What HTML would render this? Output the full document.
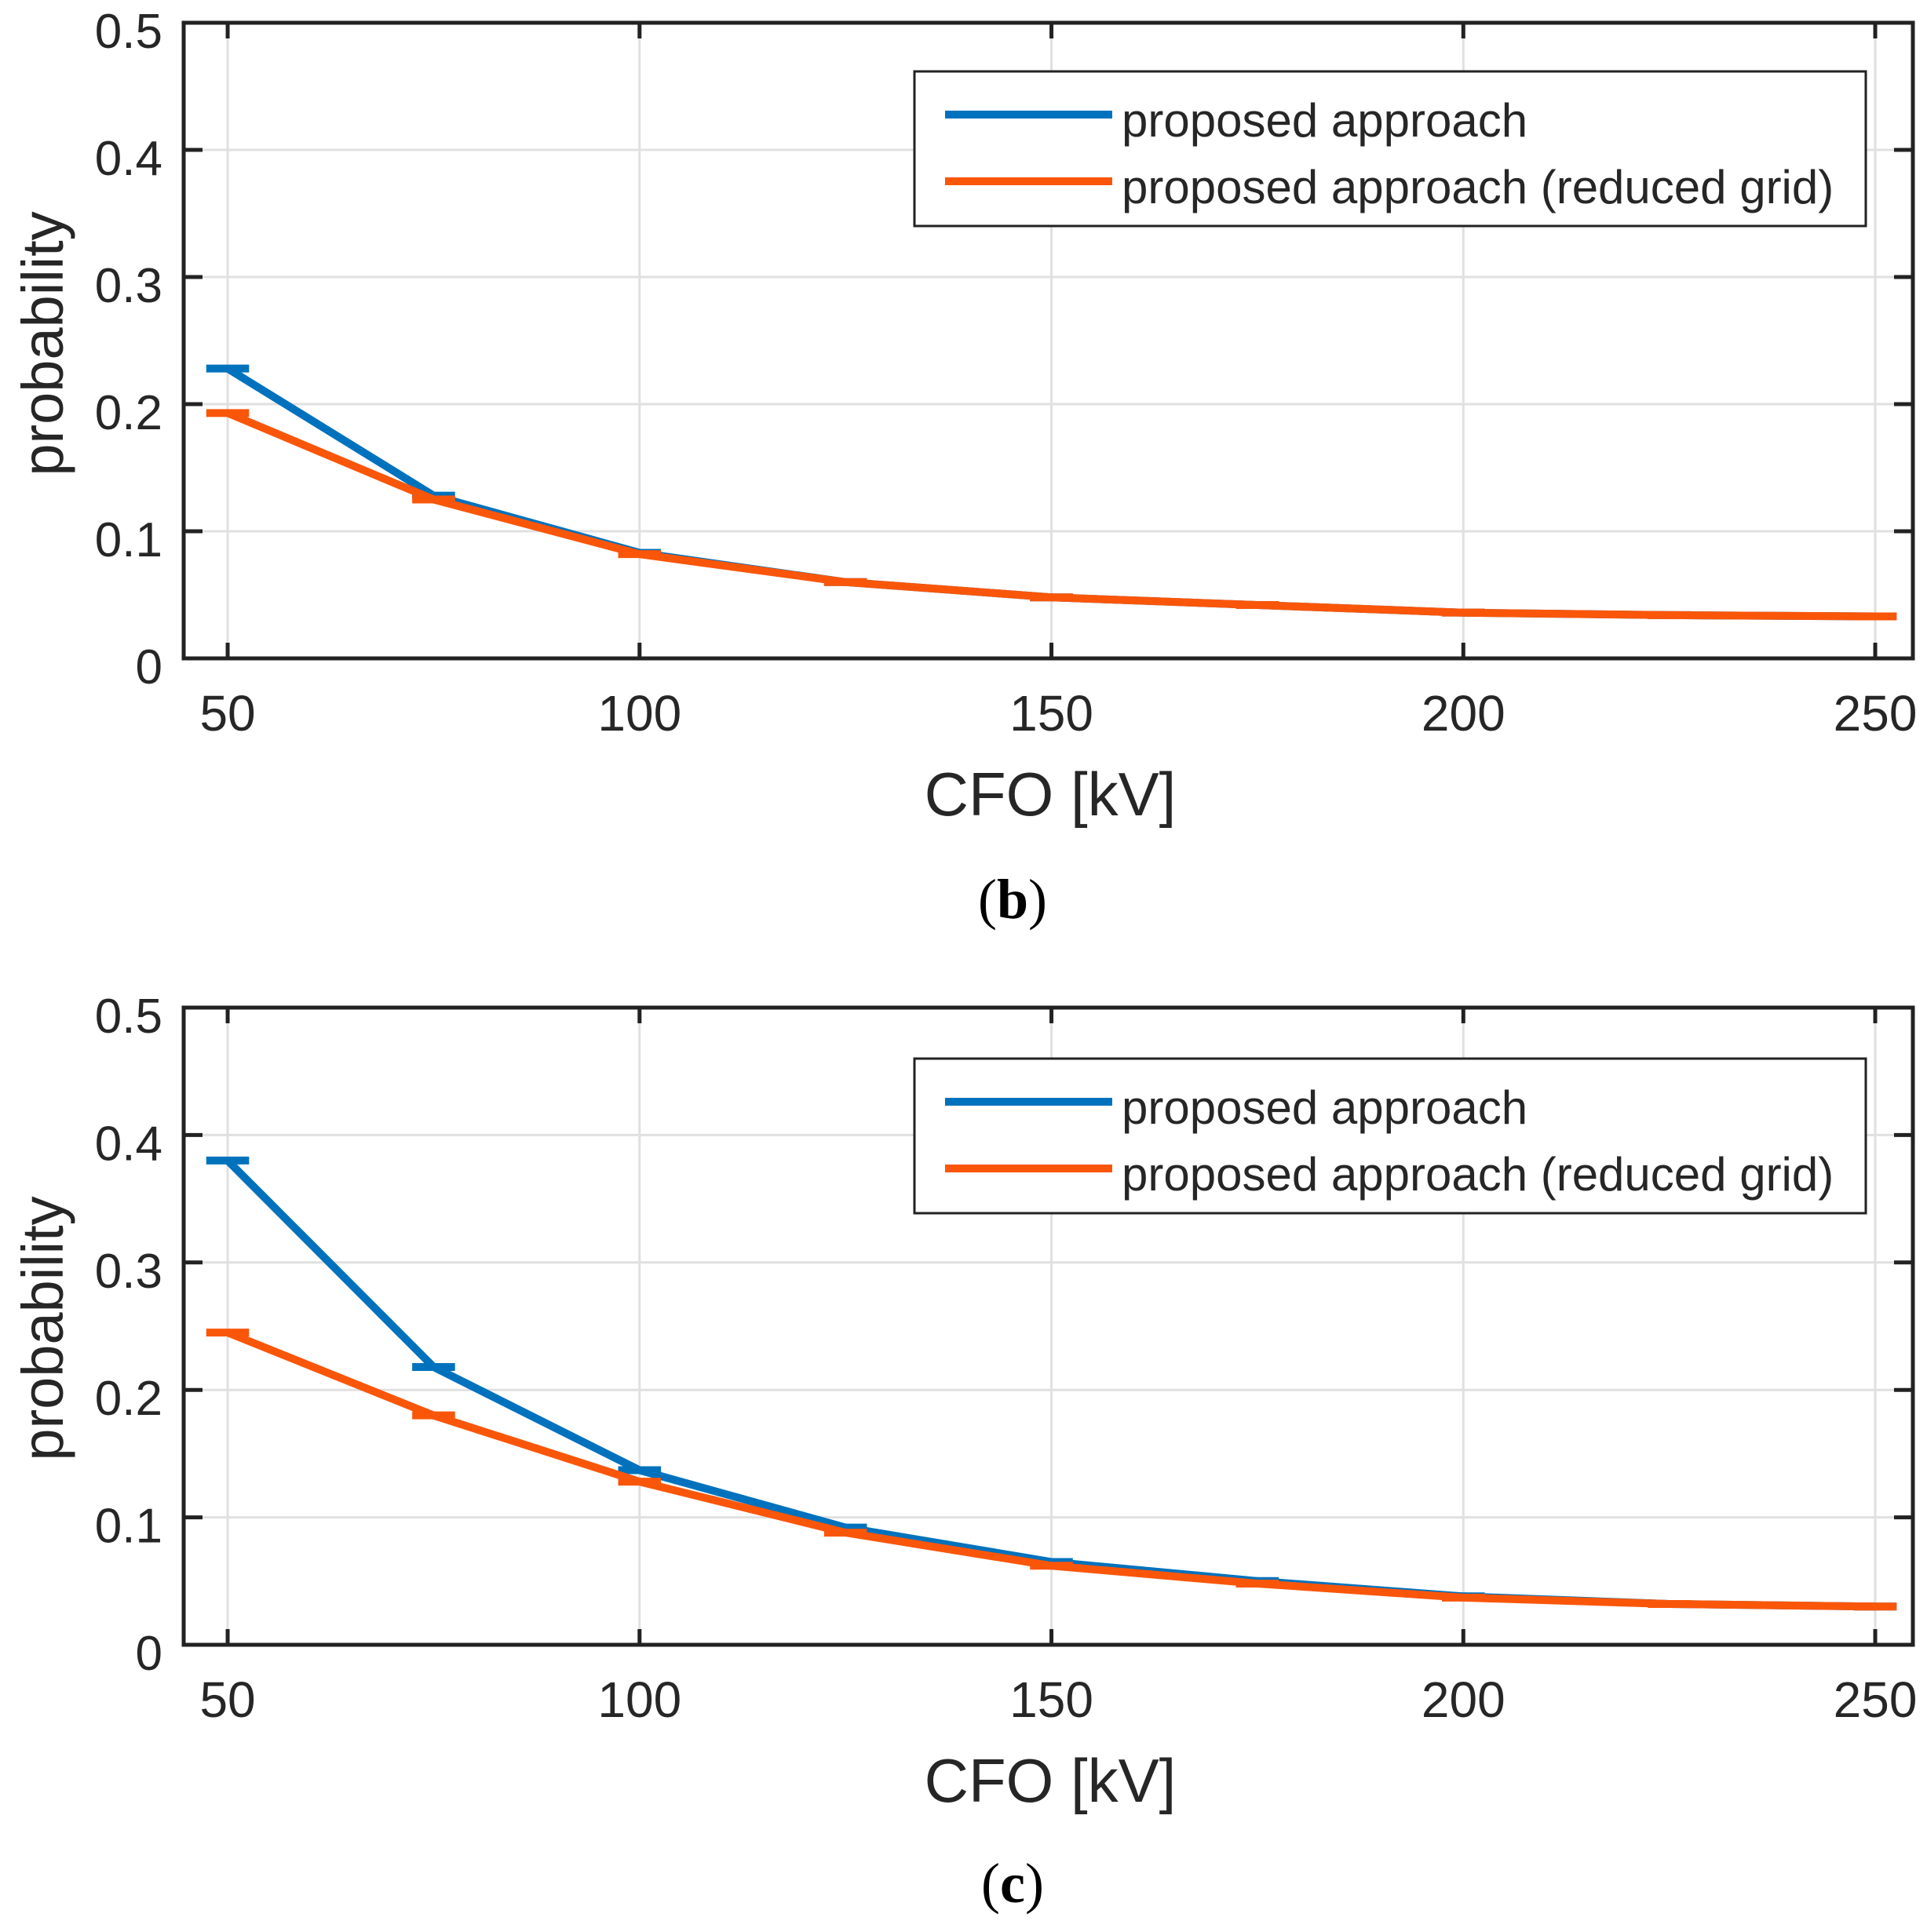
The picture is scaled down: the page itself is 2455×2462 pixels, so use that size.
<!DOCTYPE html>
<html><head><meta charset="utf-8"><style>
html,body{margin:0;padding:0;background:#fff;}
svg{display:block;font-family:"Liberation Sans",sans-serif;}
</style></head><body>
<svg id="chart" width="2455" height="2462" viewBox="0 0 2455 2462" xmlns="http://www.w3.org/2000/svg"></svg>
<script>
const xValues = [50, 75, 100, 125, 150, 175, 200, 225, 250];
const xTicks = [50, 100, 150, 200, 250];
const yTicks = [0, 0.1, 0.2, 0.3, 0.4, 0.5];
const yTickLabels = ["0", "0.1", "0.2", "0.3", "0.4", "0.5"];
const seriesNames = ["proposed approach", "proposed approach (reduced grid)"];
const bBlue = [0.228, 0.128, 0.083, 0.060, 0.048, 0.042, 0.036, 0.034, 0.033];
const bOrange = [0.193, 0.125, 0.082, 0.060, 0.048, 0.042, 0.036, 0.034, 0.033];
const cBlue = [0.380, 0.218, 0.137, 0.092, 0.065, 0.050, 0.038, 0.032, 0.030];
const cOrange = [0.245, 0.180, 0.128, 0.088, 0.062, 0.048, 0.037, 0.032, 0.030];
const panelLabels = ["(b)", "(c)"];

const NS = "http://www.w3.org/2000/svg";
const svg = document.getElementById("chart");
const COLORS = ["#0072BD", "#FA560A"];
function mk(tag, attrs, parent) {
  const e = document.createElementNS(NS, tag);
  for (const k in attrs) e.setAttribute(k, attrs[k]);
  (parent || svg).appendChild(e);
  return e;
}
const L = 234, R = 2437, XMIN = 44.66, XMAX = 254.57;
function xs(v) { return L + (v - XMIN) / (XMAX - XMIN) * (R - L); }

function panel(top, bottom, series, label, labelY, legTop, idx) {
  const g = mk("g", {});
  
  
  const ys = v => bottom - v / 0.5 * (bottom - top);
  xTicks.forEach(t => {
    const l = mk("line", {x1: xs(t), x2: xs(t), y1: top, y2: bottom, stroke: "#e0e0e0", "stroke-width": 3}, g);
    
    
  });
  yTicks.forEach(t => {
    const l = mk("line", {x1: L, x2: R, y1: ys(t), y2: ys(t), stroke: "#e0e0e0", "stroke-width": 3}, g);
    
    
  });
  series.forEach((vals, si) => {
    const pts = xValues.map((x, i) => xs(x).toFixed(1) + "," + ys(vals[i]).toFixed(1)).join(" ");
    const pl = mk("polyline", {points: pts, fill: "none", stroke: COLORS[si], "stroke-width": 10, "stroke-linejoin": "round"}, g);
    
    
    xValues.forEach((x, i) => {
      const c = mk("line", {x1: xs(x - 2.6), x2: xs(x + 2.6), y1: ys(vals[i]), y2: ys(vals[i]), stroke: COLORS[si], "stroke-width": 10}, g);
      
      
    });
  });
  const box = mk("rect", {x: L, y: top, width: R - L, height: bottom - top, fill: "none", stroke: "#222", "stroke-width": 5}, g);
  
  
  xTicks.forEach(t => {
    mk("line", {x1: xs(t), x2: xs(t), y1: bottom, y2: bottom - 20, stroke: "#222", "stroke-width": 5}, g);
    mk("line", {x1: xs(t), x2: xs(t), y1: top, y2: top + 20, stroke: "#222", "stroke-width": 5}, g);
    const tx = mk("text", {x: xs(t), y: bottom + 92, "font-size": 64, "text-anchor": "middle", fill: "#262626"}, g);
    tx.textContent = t;
    
    
  });
  yTicks.forEach((t, i) => {
    mk("line", {x1: L, x2: L + 24, y1: ys(t), y2: ys(t), stroke: "#222", "stroke-width": 5}, g);
    mk("line", {x1: R, x2: R - 24, y1: ys(t), y2: ys(t), stroke: "#222", "stroke-width": 5}, g);
    const tx = mk("text", {x: 207, y: ys(t) + 32, "font-size": 62, "text-anchor": "end", fill: "#262626"}, g);
    tx.textContent = yTickLabels[i];
    
    
  });
  const xt = mk("text", {x: 1338, y: bottom + 200, "font-size": 78, "text-anchor": "middle", fill: "#262626"}, g);
  xt.textContent = "CFO [kV]";
  
  
  const yc = top + 409;
  const yt = mk("text", {x: 80, y: yc, "font-size": 74, "text-anchor": "middle", fill: "#262626", transform: "rotate(-90 80 " + yc + ")"}, g);
  yt.textContent = "probability";
  
  
  const lg = mk("g", {}, g);
  
  
  mk("rect", {x: 1165, y: legTop, width: 1212, height: 197, fill: "#fff", stroke: "#222", "stroke-width": 3}, lg);
  seriesNames.forEach((n, si) => {
    const yy = legTop + 55 + si * 85;
    const ln = mk("line", {x1: 1204, x2: 1417, y1: yy, y2: yy, stroke: COLORS[si], "stroke-width": 10}, lg);
    
    
    const t = mk("text", {x: 1429, y: yy + 28, "font-size": 60, fill: "#262626"}, lg);
    t.textContent = n;
    
    
  });
  const pl = mk("text", {x: 1290, y: labelY, "font-size": 72, "text-anchor": "middle", fill: "#000", "font-family": "Liberation Serif, serif"});
  pl.innerHTML = '(<tspan font-weight="bold">' + label.replace(/[()]/g, '') + '</tspan>)';
  
  
}
panel(29, 839, [bBlue, bOrange], panelLabels[0], 1170, 91, 0);
panel(1284, 2096, [cBlue, cOrange], panelLabels[1], 2424, 1349, 1);
</script>
</body></html>
